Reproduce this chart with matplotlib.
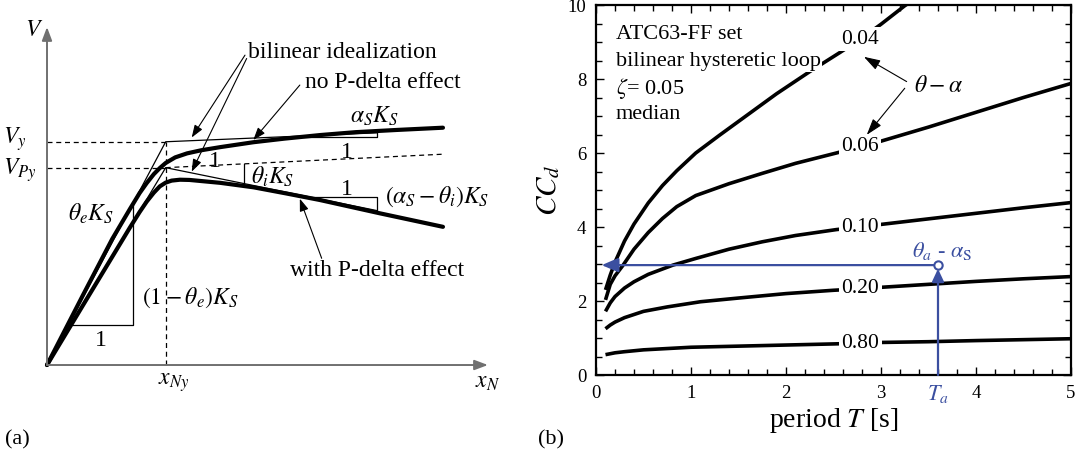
"""Two-panel figure: (a) pushover schematic with/without P-delta, (b) CC_d vs period."""
import numpy as np
import matplotlib
matplotlib.use("Agg")
import matplotlib.pyplot as plt
from matplotlib.ticker import MultipleLocator

plt.rcParams["font.family"] = ["Liberation Serif", "DejaVu Serif"]
plt.rcParams["mathtext.fontset"] = "stix"

BLUE = "#3b4fa0"
GREY = "#707070"

# ---- panel (a): schematic, x in units of x_Ny, V in units of V_y ----
X_NY, V_Y, V_PY = 1.0, 1.0, 0.884
X_END_AX, V_END_AX = 3.715, 1.514

bil_x = [0.0, 1.0, 2.777]            # bilinear idealization, no P-delta
bil_v = [0.0, 1.0, 1.040]
bilp_x = [0.0, 1.0, 2.777]           # bilinear idealization, with P-delta
bilp_v = [0.0, 0.884, 0.692]
ext_x = [1.0, 3.325]                 # dashed extension from V_Py
ext_v = [0.884, 0.944]

nop_x = [0, 0.3, 0.55, 0.7, 0.78, 0.84, 0.9, 0.95, 1.0, 1.08, 1.18, 1.3,
         1.46, 1.74, 2.0, 2.3, 2.6, 2.95, 3.336]
nop_v = [0, 0.31, 0.565, 0.70, 0.77, 0.815, 0.855, 0.882, 0.905, 0.93,
         0.948, 0.962, 0.976, 0.998, 1.014, 1.03, 1.043, 1.053, 1.063]
pd_x = [0, 0.3, 0.55, 0.7, 0.78, 0.84, 0.9, 0.95, 1.0, 1.05, 1.12, 1.2,
        1.46, 1.74, 2.02, 2.3, 2.8, 3.336]
pd_v = [0, 0.265, 0.485, 0.617, 0.685, 0.732, 0.772, 0.80, 0.817, 0.826,
        0.83, 0.829, 0.816, 0.796, 0.768, 0.739, 0.68, 0.619]

tri_el_x = [0.208, 0.722, 0.722]
tri_el_v = [0.179, 0.179, 0.72]
tri_a_x = [1.99, 2.777, 2.777]
tri_a_v = [1.022, 1.022, 1.040]
tri_p_x = [2.23, 2.777, 2.777]
tri_p_v = [0.751, 0.751, 0.692]
theta_i_x = [1.66, 1.66]
theta_i_v = [0.901, 0.813]

# ---- panel (b): CC_d curves ----
curve_labels = ["0.04", "0.06", "0.10", "0.20", "0.80"]
T_004 = [0.1, 0.15, 0.2, 0.3, 0.4, 0.55, 0.7, 0.85, 1.05, 1.3, 1.6, 1.9,
         2.25, 2.57, 2.78, 3.0, 3.25, 3.32]
CC_004 = [2.3, 2.7, 3.05, 3.62, 4.08, 4.65, 5.12, 5.52, 6.0, 6.48, 7.04,
          7.6, 8.2, 8.72, 9.07, 9.48, 9.98, 10.1]
T_006 = [0.1, 0.15, 0.2, 0.28, 0.4, 0.55, 0.7, 0.85, 1.05, 1.4, 1.75, 2.1,
         2.53, 2.78, 3.0, 3.5, 4.0, 4.5, 5.0]
CC_006 = [2.03, 2.45, 2.68, 2.95, 3.4, 3.85, 4.23, 4.55, 4.85, 5.17, 5.45,
          5.72, 6.0, 6.17, 6.32, 6.7, 7.1, 7.5, 7.88]
T_010 = [0.1, 0.15, 0.2, 0.3, 0.4, 0.55, 0.81, 1.05, 1.4, 1.75, 2.1, 2.53,
         2.78, 3.0, 3.5, 4.0, 4.5, 5.0]
CC_010 = [1.72, 1.95, 2.12, 2.35, 2.52, 2.72, 2.97, 3.15, 3.4, 3.6, 3.77,
          3.93, 4.0, 4.07, 4.22, 4.37, 4.52, 4.66]
T_020 = [0.1, 0.15, 0.2, 0.3, 0.5, 0.75, 1.1, 1.5, 2.0, 2.5, 2.78, 3.0,
         3.5, 4.0, 4.5, 5.0]
CC_020 = [1.25, 1.35, 1.43, 1.55, 1.72, 1.84, 1.98, 2.08, 2.2, 2.29, 2.33,
          2.37, 2.45, 2.53, 2.6, 2.66]
T_080 = [0.1, 0.2, 0.3, 0.5, 1.0, 1.5, 2.0, 2.5, 2.78, 3.0, 3.5, 4.0, 4.5, 5.0]
CC_080 = [0.55, 0.6, 0.63, 0.68, 0.75, 0.78, 0.81, 0.84, 0.86, 0.88, 0.9,
          0.93, 0.955, 0.98]
T_LABEL = 2.78

T_A, CC_A, T_ARROW_TIP = 3.6, 2.97, 0.06
info_lines = ["ATC63-FF set", "bilinear hysteretic loop", r"$\zeta$= 0.05", "median"]


def arrow(ax, xy, xytext, color="black", lw=0.8, hl=0.75, hw=0.27, ms=10, shrink=0):
    ax.annotate("", xy=xy, xytext=xytext,
                arrowprops=dict(arrowstyle=f"-|>,head_length={hl},head_width={hw}",
                                color=color, lw=lw, mutation_scale=ms,
                                shrinkA=shrink, shrinkB=0))


def panel_a(ax):
    ax.set_xlim(-0.396, 3.985)
    ax.set_ylim(-0.421, 1.635)
    ax.axis("off")

    arrow(ax, (X_END_AX, 0), (0, 0), color=GREY, lw=1.4, hl=0.8, hw=0.3)
    arrow(ax, (0, V_END_AX), (0, 0), color=GREY, lw=1.4, hl=0.8, hw=0.3)

    dash = dict(color="black", lw=0.9, ls=(0, (4, 3)))
    ax.plot([0, X_NY], [V_Y, V_Y], **dash)
    ax.plot([0, X_NY], [V_PY, V_PY], **dash)
    ax.plot([X_NY, X_NY], [0, V_Y], **dash)
    ax.plot(ext_x, ext_v, **dash)

    thin = dict(color="black", lw=0.9)
    ax.plot(bil_x, bil_v, **thin)
    ax.plot(bilp_x, bilp_v, **thin)
    for tx, tv in [(tri_el_x, tri_el_v), (tri_a_x, tri_a_v), (tri_p_x, tri_p_v),
                   (theta_i_x, theta_i_v)]:
        ax.plot(tx, tv, **thin)

    ax.plot(nop_x, nop_v, color="black", lw=3.0, solid_capstyle="round",
            solid_joinstyle="round")
    ax.plot(pd_x, pd_v, color="black", lw=3.0, solid_capstyle="round",
            solid_joinstyle="round")

    fs = 17
    ax.text(-0.11, 1.50, "$V$", fontsize=fs, ha="center", va="center")
    ax.text(-0.37, 1.01, "$V_y$", fontsize=fs, ha="left", va="center")
    ax.text(-0.37, 0.873, "$V_{Py}$", fontsize=fs, ha="left", va="center")
    ax.text(1.07, -0.08, "$x_{Ny}$", fontsize=fs, ha="center", va="center")
    ax.text(3.71, -0.08, "$x_N$", fontsize=fs, ha="center", va="center")

    ax.text(0.37, 0.676, r"$\theta_e K_S$", fontsize=fs, ha="center", va="center")
    ax.text(1.21, 0.30, r"$\left(1-\theta_e\right)K_S$", fontsize=fs,
            ha="center", va="center")
    ax.text(0.455, 0.112, "1", fontsize=fs, ha="center", va="center")
    ax.text(2.76, 1.112, r"$\alpha_S K_S$", fontsize=fs, ha="center", va="center")
    ax.text(2.53, 0.954, "1", fontsize=fs, ha="center", va="center")
    ax.text(1.415, 0.91, "1", fontsize=fs, ha="center", va="center")
    ax.text(1.72, 0.843, r"$\theta_i K_S$", fontsize=fs, ha="left", va="center")
    ax.text(2.525, 0.784, "1", fontsize=fs, ha="center", va="center")
    ax.text(2.848, 0.754, r"$\left(\alpha_S-\theta_i\right)K_S$", fontsize=fs,
            ha="left", va="center")

    ax.text(1.693, 1.40, "bilinear idealization", fontsize=fs, ha="left", va="center")
    arrow(ax, (1.219, 1.019), (1.668, 1.388))
    arrow(ax, (1.219, 0.866), (1.682, 1.373))
    ax.text(2.17, 1.267, "no P-delta effect", fontsize=fs, ha="left", va="center")
    arrow(ax, (1.738, 1.008), (2.13, 1.254))
    ax.text(2.777, 0.425, "with P-delta effect", fontsize=fs, ha="center", va="center")
    arrow(ax, (2.13, 0.745), (2.314, 0.478))


def panel_b(ax):
    series = [(T_004, CC_004), (T_006, CC_006), (T_010, CC_010),
              (T_020, CC_020), (T_080, CC_080)]
    for lab, (t, cc) in zip(curve_labels, series):
        ax.plot(t, cc, color="black", lw=2.6, solid_capstyle="butt", zorder=2)
        ax.text(T_LABEL, np.interp(T_LABEL, t, cc), lab, fontsize=15.5,
                ha="center", va="center", zorder=4,
                bbox=dict(boxstyle="square,pad=0.12", fc="white", ec="none"))

    ax.set_xlim(0, 5)
    ax.set_ylim(0, 10)
    ax.set_xticks(range(0, 6))
    ax.set_yticks(range(0, 11, 2))
    ax.xaxis.set_minor_locator(MultipleLocator(0.2))
    ax.yaxis.set_minor_locator(MultipleLocator(0.5))
    ax.tick_params(which="both", direction="in", top=True, right=True,
                   width=1.0, labelsize=13.5, pad=7)
    ax.tick_params(which="major", length=6)
    ax.tick_params(which="minor", length=4)
    for sp in ax.spines.values():
        sp.set_linewidth(1.6)

    ax.set_xlabel("period $T$ [s]", fontsize=20, labelpad=3)
    ax.set_ylabel("$CC_d$", fontsize=21, labelpad=4)

    for i, line in enumerate(info_lines):
        ax.text(0.21, 9.19 - 0.72 * i, line, fontsize=16, ha="left", va="center",
                zorder=3, bbox=dict(boxstyle="square,pad=0.05", fc="white", ec="none"))

    ax.text(3.61, 7.79, r"$\theta - \alpha$", fontsize=17, ha="center", va="center")
    arrow(ax, (2.82, 8.6), (3.27, 7.93), hl=1.0, hw=0.32)
    arrow(ax, (2.85, 6.49), (3.25, 7.75), hl=1.0, hw=0.32)

    # blue read-off construction
    arrow(ax, (T_ARROW_TIP, CC_A), (T_A, CC_A), color=BLUE, lw=1.6,
          hl=1.0, hw=0.43, shrink=3)
    arrow(ax, (T_A, CC_A - 0.1), (T_A, 0), color=BLUE, lw=1.6, hl=0.77, hw=0.36)
    ax.plot(T_A, CC_A, "o", mfc="white", mec=BLUE, ms=6, mew=1.5, zorder=6)
    ax.text(T_A + 0.04, CC_A + 0.38, r"$\theta_a$ - $\alpha_{\rm S}$", fontsize=16,
            color=BLUE, ha="center", va="center")
    ax.text(T_A, -0.022, "$T_a$", fontsize=16, color=BLUE, ha="center", va="top",
            transform=ax.get_xaxis_transform())


fig = plt.figure(figsize=(10.76, 4.59), dpi=100)
ax_a = fig.add_axes([0, 0, 520 / 1076, 1])
ax_b = fig.add_axes([596 / 1076, 84 / 459, 475 / 1076, 370 / 459])
panel_a(ax_a)
panel_b(ax_b)
fig.text(5 / 1076, 1 - 440 / 459, "(a)", fontsize=16, ha="left", va="center")
fig.text(538 / 1076, 1 - 440 / 459, "(b)", fontsize=16, ha="left", va="center")
fig.savefig("out.png", dpi=100)
